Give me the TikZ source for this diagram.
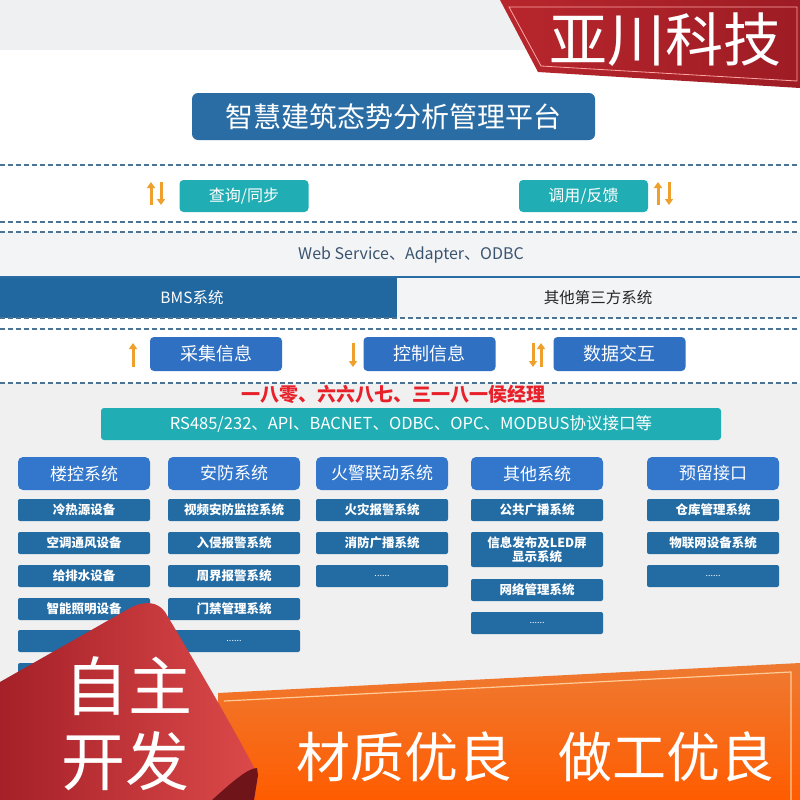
\documentclass[tikz,border=0pt]{standalone}
\usepackage{fontspec}
\setmainfont{Noto Sans CJK SC}
\usetikzlibrary{arrows.meta}
\definecolor{topgray}{HTML}{EEF0F2}
\definecolor{bandgray}{HTML}{F3F4F5}
\definecolor{lowgray}{HTML}{F0F0F0}
\definecolor{titleblue}{HTML}{2A6DA5}
\definecolor{tealbox}{HTML}{21ADB4}
\definecolor{bmsblue}{HTML}{2268A0}
\definecolor{rowblue}{HTML}{2F70C2}
\definecolor{headblue}{HTML}{3277CC}
\definecolor{subblue}{HTML}{226BA3}
\definecolor{dashblue}{HTML}{4A7394}
\definecolor{arrorange}{HTML}{EFA02C}
\definecolor{phonered}{HTML}{E8202A}
\definecolor{textdark}{HTML}{3A5470}
\definecolor{bannerred}{HTML}{B8262D}
\definecolor{bannerdark}{HTML}{9E1C24}
\definecolor{curllight}{HTML}{DC4A4A}
\definecolor{curldark}{HTML}{A52028}
\definecolor{orangetop}{HTML}{EE7A32}
\definecolor{orangebot}{HTML}{FF5C00}
\tikzset{
  dashline/.style={draw=dashblue, line width=1.4pt, dash pattern=on 5pt off 3pt},
  oarrow/.style={draw=arrorange, line width=3pt, -{Triangle[width=8pt,length=6pt]}},
  tealnode/.style={fill=tealbox, rounded corners=4pt, minimum width=129pt, minimum height=32pt, inner sep=0pt, text=white, font=\fontsize{16}{18}\selectfont},
  rownode/.style={fill=rowblue, rounded corners=4pt, minimum width=132pt, minimum height=34pt, inner sep=0pt, text=white, font=\fontsize{18}{20}\selectfont},
  headnode/.style={fill=headblue, rounded corners=5pt, minimum width=132pt, minimum height=33pt, inner sep=0pt, text=white, font=\fontsize{17}{20}\selectfont},
  subnode/.style={fill=subblue, rounded corners=2pt, minimum width=132pt, minimum height=22pt, inner sep=0pt, text=white, align=center, font=\fontsize{12.5}{14}\selectfont\bfseries},
  dotsnode/.style={subnode, font=\fontsize{9}{10}\selectfont},
}
\begin{document}
\begin{tikzpicture}[x=1pt,y=-1pt]
\useasboundingbox (0,0) rectangle (800,800);
% backgrounds
\fill[white] (0,0) rectangle (800,800);
\fill[topgray] (0,0) rectangle (800,50);
\fill[bandgray] (0,232) rectangle (800,277);
\fill[lowgray] (0,383) rectangle (800,800);
\fill[bmsblue] (0,277) rectangle (397,318);
\fill[bandgray] (397,277) rectangle (800,318);
\draw[titleblue, line width=1.5pt] (0,277) -- (800,277);
% dashed lines
\foreach \yy in {165,222,232,318,329,383} \draw[dashline] (0,\yy) -- (800,\yy);
% title
\node[fill=titleblue, rounded corners=6pt, minimum width=403pt, minimum height=47pt, inner sep=0pt, text=white, font=\fontsize{28}{30}\selectfont] (title) at (393.5,116.5) {智慧建筑态势分析管理平台};
% query row
\node[tealnode] (query) at (244,196) {查询/同步};
\node[tealnode] (call) at (583.5,196) {调用/反馈};
\coordinate (q1s) at (151,205); \coordinate (q1e) at (151,182);
\coordinate (q2s) at (161,182); \coordinate (q2e) at (161,205);
\coordinate (c1s) at (658,205); \coordinate (c1e) at (658,182);
\coordinate (c2s) at (669,182); \coordinate (c2e) at (669,205);
\draw[oarrow] (q1s) -- (q1e); \draw[oarrow] (q2s) -- (q2e);
\draw[oarrow] (c1s) -- (c1e); \draw[oarrow] (c2s) -- (c2e);
% web service band
\node[text=textdark, font=\fontsize{16}{18}\selectfont] (web) at (411,254.5) {Web Service、Adapter、ODBC};
\node[text=white, font=\fontsize{15.5}{18}\selectfont] (bms) at (192,297.5) {BMS系统};
\node[text=black!85, font=\fontsize{15.5}{18}\selectfont] (third) at (598,297.5) {其他第三方系统};
% info row
\node[rownode] (collect) at (216,354) {采集信息};
\node[rownode] (control) at (429.5,354) {控制信息};
\node[rownode] (exchange) at (619.5,354) {数据交互};
\coordinate (a1s) at (133,367); \coordinate (a1e) at (133,343);
\coordinate (a2s) at (353,343); \coordinate (a2e) at (353,367);
\coordinate (a3s) at (533,343); \coordinate (a3e) at (533,367);
\coordinate (a4s) at (541,367); \coordinate (a4e) at (541,343);
\draw[oarrow] (a1s) -- (a1e); \draw[oarrow] (a2s) -- (a2e);
\draw[oarrow] (a3s) -- (a3e); \draw[oarrow] (a4s) -- (a4e);
% phone text
\node[text=phonered, font=\fontsize{19}{21}\selectfont\bfseries] (phone) at (393,394) {一八零、六六八七、三一八一侯经理};
% protocol bar
\node[fill=tealbox, rounded corners=3pt, minimum width=620pt, minimum height=32pt, inner sep=0pt, text=white, font=\fontsize{16.5}{18}\selectfont] (proto) at (411,424) {RS485/232、API、BACNET、ODBC、OPC、MODBUS协议接口等};
% column headers
\node[headnode] (h1) at (84,473.5) {楼控系统};
\node[headnode] (h2) at (234,473.5) {安防系统};
\node[headnode] (h3) at (382,473.5) {火警联动系统};
\node[headnode] (h4) at (537,473.5) {其他系统};
\node[headnode] (h5) at (713,473.5) {预留接口};
% column 1
\node[subnode] (s11) at (84,510) {冷热源设备};
\node[subnode] (s12) at (84,543) {空调通风设备};
\node[subnode] (s13) at (84,576) {给排水设备};
\node[subnode] (s14) at (84,609) {智能照明设备};
\node[dotsnode] (s15) at (84,641) {......};
\node[subnode] (s16) at (84,674) {};
% column 2
\node[subnode] (s21) at (234,510) {视频安防监控系统};
\node[subnode] (s22) at (234,543) {入侵报警系统};
\node[subnode] (s23) at (234,576) {周界报警系统};
\node[subnode] (s24) at (234,609) {门禁管理系统};
\node[dotsnode] (s25) at (234,641) {......};
% column 3
\node[subnode] (s31) at (382,510) {火灾报警系统};
\node[subnode] (s32) at (382,543) {消防广播系统};
\node[dotsnode] (s33) at (382,576) {......};
% column 4
\node[subnode] (s41) at (537,510) {公共广播系统};
\node[subnode, minimum height=35pt, font=\fontsize{12.5}{14.5}\selectfont\bfseries] (s42) at (537,549.5) {信息发布及LED屏\\显示系统};
\node[subnode] (s43) at (537,590) {网络管理系统};
\node[dotsnode] (s44) at (537,623) {......};
% column 5
\node[subnode] (s51) at (713,510) {仓库管理系统};
\node[subnode] (s52) at (713,543) {物联网设备系统};
\node[dotsnode] (s53) at (713,576) {......};
% top-right red banner
\shade[left color=bannerred, right color=bannerdark] (500,0) -- (800,0) -- (800,88) -- (538,72) -- cycle;
\draw[red!35!white, line width=0.8pt] (509,7) -- (797,7) -- (797,81) -- (541,66) -- cycle;
\node[text=white, font=\fontsize{58}{60}\selectfont] (brand) at (665,40) {亚川科技};
% orange bottom band
\shade[top color=orangetop, bottom color=orangebot] (218,693) -- (800,663) -- (800,800) -- (218,800) -- cycle;
\draw[orange!40!white, line width=1.2pt] (224,701) -- (791,672) -- (791,800);
\node[text=white, font=\fontsize{54}{56}\selectfont] (quality1) at (404,757) {材质优良};
\node[text=white, font=\fontsize{54}{56}\selectfont] (quality2) at (666,757) {做工优良};
% red page curl
\shade[left color=curldark, right color=curllight] (0,682) -- (130,608) .. controls (145,600) and (158,602) .. (165,612) .. controls (200,670) and (240,740) .. (258,775) -- (254,800) -- (0,800) -- cycle;
\fill[bannerdark!70!black] (212,800) .. controls (232,782) and (248,768) .. (257,768) -- (258,775) -- (254,800) -- cycle;
\node[text=white, font=\fontsize{64}{66}\selectfont] (self1) at (128,686) {自主};
\node[text=white, font=\fontsize{64}{66}\selectfont] (self2) at (125,761) {开发};
\end{tikzpicture}
\end{document}
